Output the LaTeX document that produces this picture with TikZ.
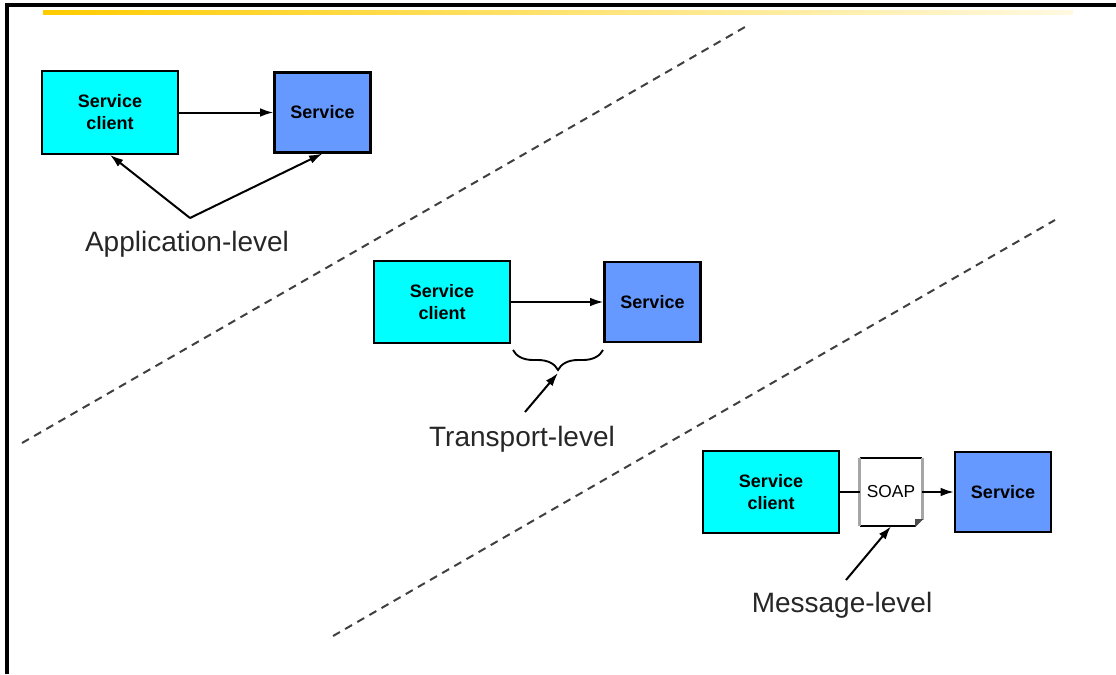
\documentclass[tikz,border=0pt]{standalone}
\usepackage{fontspec}
\setmainfont{Liberation Sans}
\usetikzlibrary{arrows.meta,decorations.pathreplacing}

\definecolor{clientcyan}{RGB}{0,255,255}
\definecolor{servbleu}{RGB}{102,153,255}
\definecolor{jaune}{RGB}{255,204,0}

\tikzset{
	boite/.style={draw, line width=1.6pt, align=center, inner sep=0pt,
		font=\bfseries\fontsize{13.5}{16.5}\selectfont},
	client/.style={boite, fill=clientcyan, minimum width=102pt, minimum height=62pt},
	service/.style={boite, fill=servbleu, minimum width=72pt, minimum height=60pt},
	niveau/.style={inner sep=0pt, text=black!85, font=\fontsize{21}{24}\selectfont},
	fleche/.style={line width=1.5pt, -{Latex[length=10pt,width=6.5pt]}},
	separation/.style={line width=1.5pt, black!75, dash pattern=on 6pt off 4.5pt},
}

\begin{document}
\begin{tikzpicture}[x=0.75pt, y=-0.75pt]
		\useasboundingbox (0,0) rectangle (1116,674);

		% cadre et filet jaune
		\draw[line width=2.6pt] (7,674) -- (7,5) -- (1116,5);
		\shade[left color=jaune, right color=jaune!12] (43,10.5) rectangle (1073,14.5);

		% lignes de separation
		\draw[separation] (22,443) -- (745,27);
		\draw[separation] (333,636) -- (1055,220);

		% niveau application
		\node[client] (cliA) at (110,112.5) {Service\\client};
		\node[service] (srvA) at (322.5,112.5) {Service};
		\draw[fleche] (cliA) -- (srvA);
		\node[niveau] (appl) at (187,244) {Application-level};
		\coordinate (sommet) at (190,218);
		\draw[fleche] (sommet) -- (cliA.south);
		\draw[fleche] (sommet) -- (srvA.south);

		% niveau transport
		\node[client] (cliB) at (442,302) {Service\\client};
		\node[service] (srvB) at (652.5,302) {Service};
		\draw[fleche] (cliB) -- (srvB);
		\draw[line width=1.4pt, decorate, decoration={brace, mirror, amplitude=15pt}] (513,350) -- (603,350);
		\coordinate (pointe) at (558,373);
		\node[niveau] (transp) at (522,439) {Transport-level};
		\coordinate (depart) at (525,412);
		\draw[fleche] (depart) -- (pointe);

		% niveau message
		\node[client] (cliC) at (771,492) {Service\\client};
		\node[inner sep=0pt, minimum width=46.5pt, minimum height=51pt,
			font=\fontsize{13}{15}\selectfont] (soap) at (891,492) {SOAP};
		\node[service] (srvC) at (1003,492) {Service};
		\draw[line width=1.2pt] (soap.north west) -- (soap.north east);
		\draw[line width=1.2pt] (soap.south west) -- ([xshift=-5pt]soap.south east);
		\draw[gray!70, line width=2pt] (soap.north west) -- (soap.south west);
		\draw[gray!70, line width=2pt] (soap.north east) -- ([yshift=5pt]soap.south east);
		\filldraw[black!70, line width=0.6pt] ([xshift=-5pt]soap.south east) -- ([yshift=5pt]soap.south east)
			-- ([xshift=-5pt, yshift=5pt]soap.south east) -- cycle;
		\draw[line width=1.5pt] (cliC) -- (soap);
		\draw[fleche] (soap) -- (srvC);
		\node[niveau] (mess) at (842,605) {Message-level};
		\coordinate (fin) at (846,580);
		\draw[fleche] (fin) -- (soap.south);

		\end{tikzpicture}
\end{document}
